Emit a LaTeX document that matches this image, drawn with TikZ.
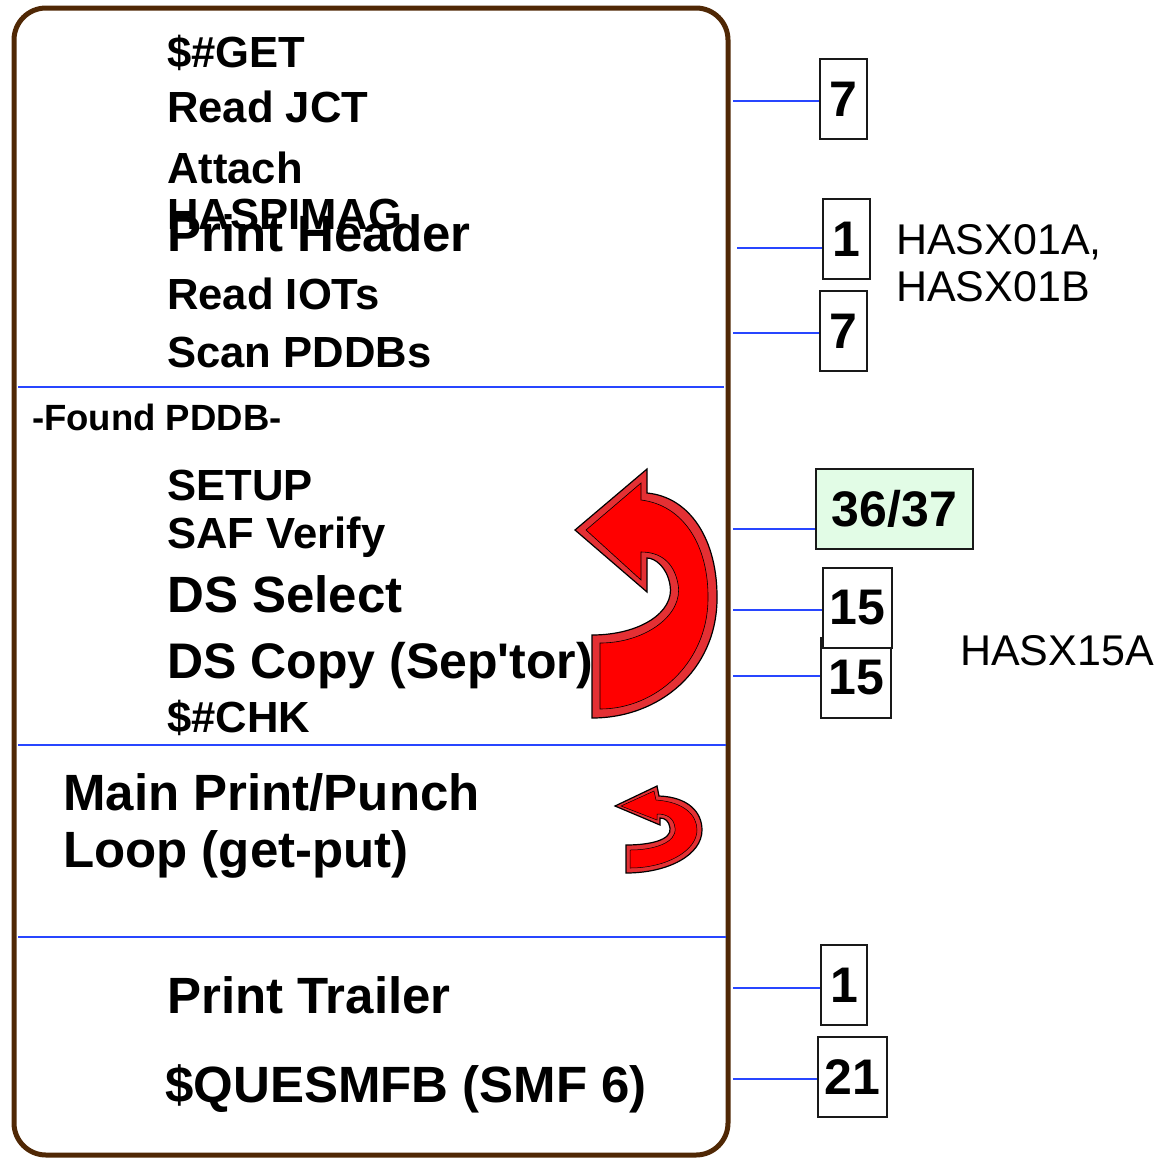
\documentclass[tikz,border=0pt]{standalone}
\usepackage{fontspec}
\setmainfont{Liberation Sans}[Ligatures=TeXOff]
\usepackage{tikz}
\usetikzlibrary{positioning,calc}
\usepackage{xcolor}

\definecolor{frame}{RGB}{80,40,5}
\definecolor{sep}{RGB}{40,70,255}
\definecolor{mint}{RGB}{226,252,230}
\definecolor{bevel}{RGB}{228,48,52}

\begin{document}
\begin{tikzpicture}[
    x=1pt, y=-1pt,
    step43/.style={anchor=base west, inner sep=0pt, font=\fontsize{43.6}{44}\selectfont\bfseries},
    step50/.style={anchor=base west, inner sep=0pt, font=\fontsize{51}{51}\selectfont\bfseries},
    note/.style={anchor=base west, inner sep=0pt, font=\fontsize{43}{43}\selectfont},
    numbox/.style={draw=black!90, line width=2pt, fill=white, inner sep=0pt, minimum height=80pt, font=\fontsize{50}{50}\selectfont\bfseries},
    link/.style={draw=sep, line width=1.8pt},
    divider/.style={draw=sep, line width=1.8pt}
]
    \useasboundingbox (0,0) rectangle (1161,1157);

    % Frame
    \draw[frame, line width=5pt, rounded corners=32pt] (14,8) rectangle (728,1155);

    % Dividers
    \draw[divider] (18,387) -- (724,387);
    \draw[divider] (18,745) -- (726,745);
    \draw[divider] (18,937) -- (726,937);

    % Initialisation
    \node[step43] (tget) at (167,67) {\$\#GET};
    \node[step43] (tjct) at (167,122) {Read JCT};
    \node[step43] (tatt) at (167,183) {Attach};
    \node[step43] (thas) at (167,229) {HASPIMAG};
    \node[step50] (thdr) at (167,251) {Print Header};
    \node[step43] (tiot) at (167,309) {Read IOTs};
    \node[step43] (tscan) at (167,367) {Scan PDDBs};

    % Found PDDB
    \node[anchor=base west, inner sep=0pt, font=\fontsize{36.5}{37}\selectfont\bfseries] (tfound) at (32,430) {-Found PDDB-};
    \node[step43] (tsetup) at (167,500) {SETUP};
    \node[step43] (tsaf) at (167,548) {SAF Verify};
    \node[step50] (tsel) at (167,612) {DS Select};
    \node[step50, font=\fontsize{50}{50}\selectfont\bfseries] (tcopy) at (167,678) {DS Copy (Sep'tor)};
    \node[step43] (tchk) at (167,732) {\$\#CHK};

    % Main loop
    \node[step50] (tmain) at (63,810) {Main Print/Punch};
    \node[step50] (tloop) at (63,867) {Loop (get-put)};

    % Termination
    \node[step50] (ttrl) at (167,1013) {Print Trailer};
    \node[step50] (tsmf) at (165,1102) {\$QUESMFB (SMF 6)};

    % Big loop arrow
    \draw[black, line width=1.2pt, fill=bevel] (575,530) -- (647,469) -- (647,493)
        .. controls (690,497) and (718,540) .. (717,600)
        .. controls (716,670) and (660,718) .. (592,718) -- (592,635)
        .. controls (640,635) and (675,612) .. (670,585)
        .. controls (667,567) and (655,558) .. (647,558) -- (647,592) -- cycle;
    \draw[black, line width=0.6pt, fill=red] (586,530) -- (641,483) -- (641,500)
        .. controls (683,505) and (709,545) .. (708,600)
        .. controls (707,663) and (656,709) .. (600,709) -- (600,643)
        .. controls (645,643) and (684,615) .. (678,584)
        .. controls (674,562) and (660,552) .. (641,552) -- (641,580) -- cycle;

    % Small loop arrow
    \draw[black, line width=1.2pt, fill=bevel] (615,806) -- (657,786) -- (659,796)
        .. controls (688,797) and (702,812) .. (702,830)
        .. controls (702,855) and (668,873) .. (626,873) -- (626,845)
        .. controls (650,845) and (672,840) .. (670,828)
        .. controls (669,821) and (665,818) .. (660,818) -- (660,825) -- cycle;
    \draw[black, line width=0.5pt, fill=red] (621,806) -- (654,791) -- (656,800)
        .. controls (684,802) and (697,815) .. (697,830)
        .. controls (697,851) and (666,868) .. (630,868) -- (630,850)
        .. controls (653,850) and (677,843) .. (675,828)
        .. controls (674,818) and (667,814) .. (657,814) -- (657,820) -- cycle;

    % Reference boxes
    \node[numbox, minimum width=47pt] (n7a) at (843.5,99) {7};
    \node[numbox, minimum width=47pt] (n1a) at (846.5,239) {1};
    \node[numbox, minimum width=47pt] (n7b) at (843.5,331) {7};
    \node[numbox, minimum width=157pt, fill=mint] (n3637) at (894.5,509) {36/37};
    \node[numbox, minimum width=70pt] (n15b) at (856,678) {15};
    \node[numbox, minimum width=69pt] (n15a) at (857.5,608) {15};
    \node[numbox, minimum width=46pt] (n1b) at (844,985) {1};
    \node[numbox, minimum width=69pt] (n21) at (852.5,1077) {21};

    % Connectors
    \coordinate (c7a) at (733,101);
    \coordinate (c1a) at (737,248);
    \coordinate (c7b) at (733,333);
    \coordinate (c3637) at (733,529);
    \coordinate (c15a) at (733,610);
    \coordinate (c15b) at (733,676);
    \coordinate (c1b) at (733,988);
    \coordinate (c21) at (733,1079);
    \foreach \c/\b in {c7a/n7a, c1a/n1a, c7b/n7b, c3637/n3637, c15a/n15a, c15b/n15b, c1b/n1b, c21/n21}
        \draw[link] (\c) -- (\c -| \b.west);

    % Module names
    \node[note] (hasx01a) at (896,254) {HASX01A,};
    \node[note] (hasx01b) at (896,301) {HASX01B};
    \node[note] (hasx15a) at (960,665) {HASX15A};
\end{tikzpicture}
\end{document}
